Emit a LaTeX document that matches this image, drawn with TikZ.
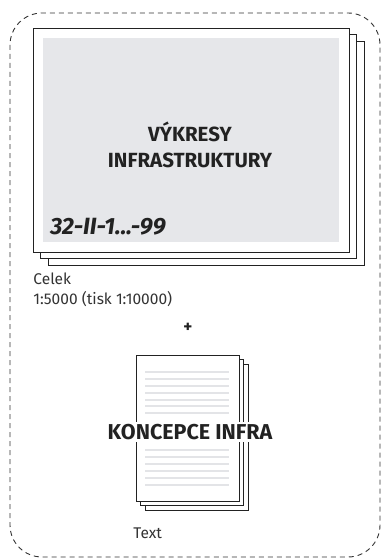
\documentclass[tikz,border=0pt]{standalone}
\usepackage{fontspec}
\setmainfont{Fira Sans}
\usepackage{xcolor}
\usetikzlibrary{positioning,calc}

\definecolor{inkdark}{HTML}{222222}
\definecolor{labelgray}{HTML}{333333}
\definecolor{sheetgray}{HTML}{E6E7EA}
\definecolor{rulegray}{HTML}{E3E4E7}

\begin{document}
\begin{tikzpicture}[x=1pt, y=-1pt, line width=0.9pt,
  frame/.style={draw=labelgray, dashed, dash pattern=on 5pt off 4pt, rounded corners=32pt},
  sheet/.style={draw=inkdark, fill=white, inner sep=0pt},
  bigsheet/.style={sheet, minimum width=316pt, minimum height=224pt},
  smallsheet/.style={sheet, minimum width=103pt, minimum height=146pt},
  title/.style={font=\bfseries\fontsize{20.5}{26}\selectfont, text=inkdark, align=center},
  caption/.style={font=\fontsize{15.5}{20}\selectfont, text=labelgray, align=left, inner sep=0pt}]
\useasboundingbox (0,0) rectangle (382,559);
% dashed outline
\draw[frame] (10,13) rectangle (380,557);

% drawings stack
\node[bigsheet] (plan3) at (206,153) {};
\node[bigsheet] (plan2) at (198.5,146.5) {};
\node[bigsheet] (plan) at (191,140) {};
\node[fill=sheetgray, minimum width=296pt, minimum height=203pt, inner sep=0pt] (planfill) at (plan.center) {};
\node[title] (plantitle) at (190,145) {VÝKRESY\\INFRASTRUKTURY};
\node[font=\bfseries\itshape\fontsize{23.5}{26}\selectfont, text=inkdark, anchor=west, inner sep=0pt] (plancode) at (50,227) {32-II-1...-99};
\node[caption, anchor=north west] (plancap) at (33,272) {Celek\\1:5000 (tisk 1:10000)};

\node[font=\bfseries\fontsize{17}{17}\selectfont, text=inkdark] (plus) at (188,328) {+};

% text stack
\node[smallsheet] (doc3) at (196.5,437) {};
\node[smallsheet] (doc2) at (192,432.5) {};
\node[smallsheet] (doc) at (187.5,428) {};
\foreach \y in {372,379,386,393,400,406,413,450,457,464,471,478,485}
  \draw[rulegray, line width=2pt] (145,\y) -- (229,\y);
\node[font=\bfseries\fontsize{21.5}{24}\selectfont, text=inkdark, fill=white, inner sep=2pt] (doctitle) at (190,432) {KONCEPCE INFRA};
\node[caption, anchor=west] (doccap) at (133,533) {Text};
\end{tikzpicture}
\end{document}
